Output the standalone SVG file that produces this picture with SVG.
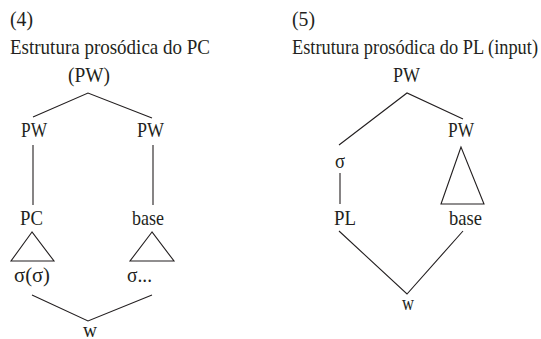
<svg xmlns="http://www.w3.org/2000/svg" width="541" height="339" viewBox="0 0 541 339">
  <style>
    text { font-family: "Liberation Serif", "Times New Roman", serif; font-size: 22px; fill: #231f20; }
    .ln { stroke: #231f20; stroke-width: 1.1; fill: none; }
  </style>
  <rect width="541" height="339" fill="#ffffff"/>

  <!-- (4) Prosodic structure of the PC -->
  <g id="title4">
    <text x="10" y="26" textLength="23" lengthAdjust="spacingAndGlyphs">(4)</text>
    <text x="10" y="54" textLength="200" lengthAdjust="spacingAndGlyphs">Estrutura prosódica do PC</text>
  </g>
  <g id="pc-root"><text x="68" y="82" textLength="42" lengthAdjust="spacingAndGlyphs">(PW)</text></g>
  <g id="pc-pw1"><text x="21" y="137" textLength="26" lengthAdjust="spacingAndGlyphs">PW</text></g>
  <g id="pc-pw2"><text x="137" y="137" textLength="27" lengthAdjust="spacingAndGlyphs">PW</text></g>
  <g id="pc-pc"><text x="20" y="225" textLength="23" lengthAdjust="spacingAndGlyphs">PC</text></g>
  <g id="pc-base"><text x="132" y="225" textLength="32" lengthAdjust="spacingAndGlyphs">base</text></g>
  <g id="pc-syl1"><text x="14" y="282" textLength="36" lengthAdjust="spacingAndGlyphs">σ(σ)</text></g>
  <g id="pc-syl2"><text x="127" y="282" textLength="25" lengthAdjust="spacingAndGlyphs">σ...</text></g>
  <g id="pc-w"><text x="83" y="337" textLength="14" lengthAdjust="spacingAndGlyphs">w</text></g>

  <!-- (5) Prosodic structure of the PL (input) -->
  <g id="title5">
    <text x="292" y="26" textLength="23" lengthAdjust="spacingAndGlyphs">(5)</text>
    <text x="292" y="54" textLength="246" lengthAdjust="spacingAndGlyphs">Estrutura prosódica do PL (input)</text>
  </g>
  <g id="pl-root"><text x="393" y="82" textLength="27" lengthAdjust="spacingAndGlyphs">PW</text></g>
  <g id="pl-pw"><text x="448" y="137" textLength="26" lengthAdjust="spacingAndGlyphs">PW</text></g>
  <g id="pl-syl"><text x="335" y="168" textLength="10" lengthAdjust="spacingAndGlyphs">σ</text></g>
  <g id="pl-pl"><text x="334" y="225" textLength="22" lengthAdjust="spacingAndGlyphs">PL</text></g>
  <g id="pl-base"><text x="449" y="225" textLength="33" lengthAdjust="spacingAndGlyphs">base</text></g>
  <g id="pl-w"><text x="402" y="310" textLength="12" lengthAdjust="spacingAndGlyphs">w</text></g>

  <g id="connectors">
    <!-- left tree -->
    <polyline class="ln" points="33,117 88,93 152,118"/>
    <line class="ln" x1="33" y1="145" x2="33" y2="205"/>
    <line class="ln" x1="153" y1="145" x2="153" y2="205"/>
    <polygon class="ln" points="32,232 11,261 54,261"/>
    <polygon class="ln" points="152,232 130,261 174,261"/>
    <polyline class="ln" points="32,295 88,321 152,295"/>
    <!-- right tree -->
    <polyline class="ln" points="339,145 407,93 463,119"/>
    <line class="ln" x1="340" y1="173" x2="340" y2="204"/>
    <polygon class="ln" points="461,147 441,204 484,204"/>
    <polyline class="ln" points="339,231 407,294 463,231"/>
  </g>
</svg>
